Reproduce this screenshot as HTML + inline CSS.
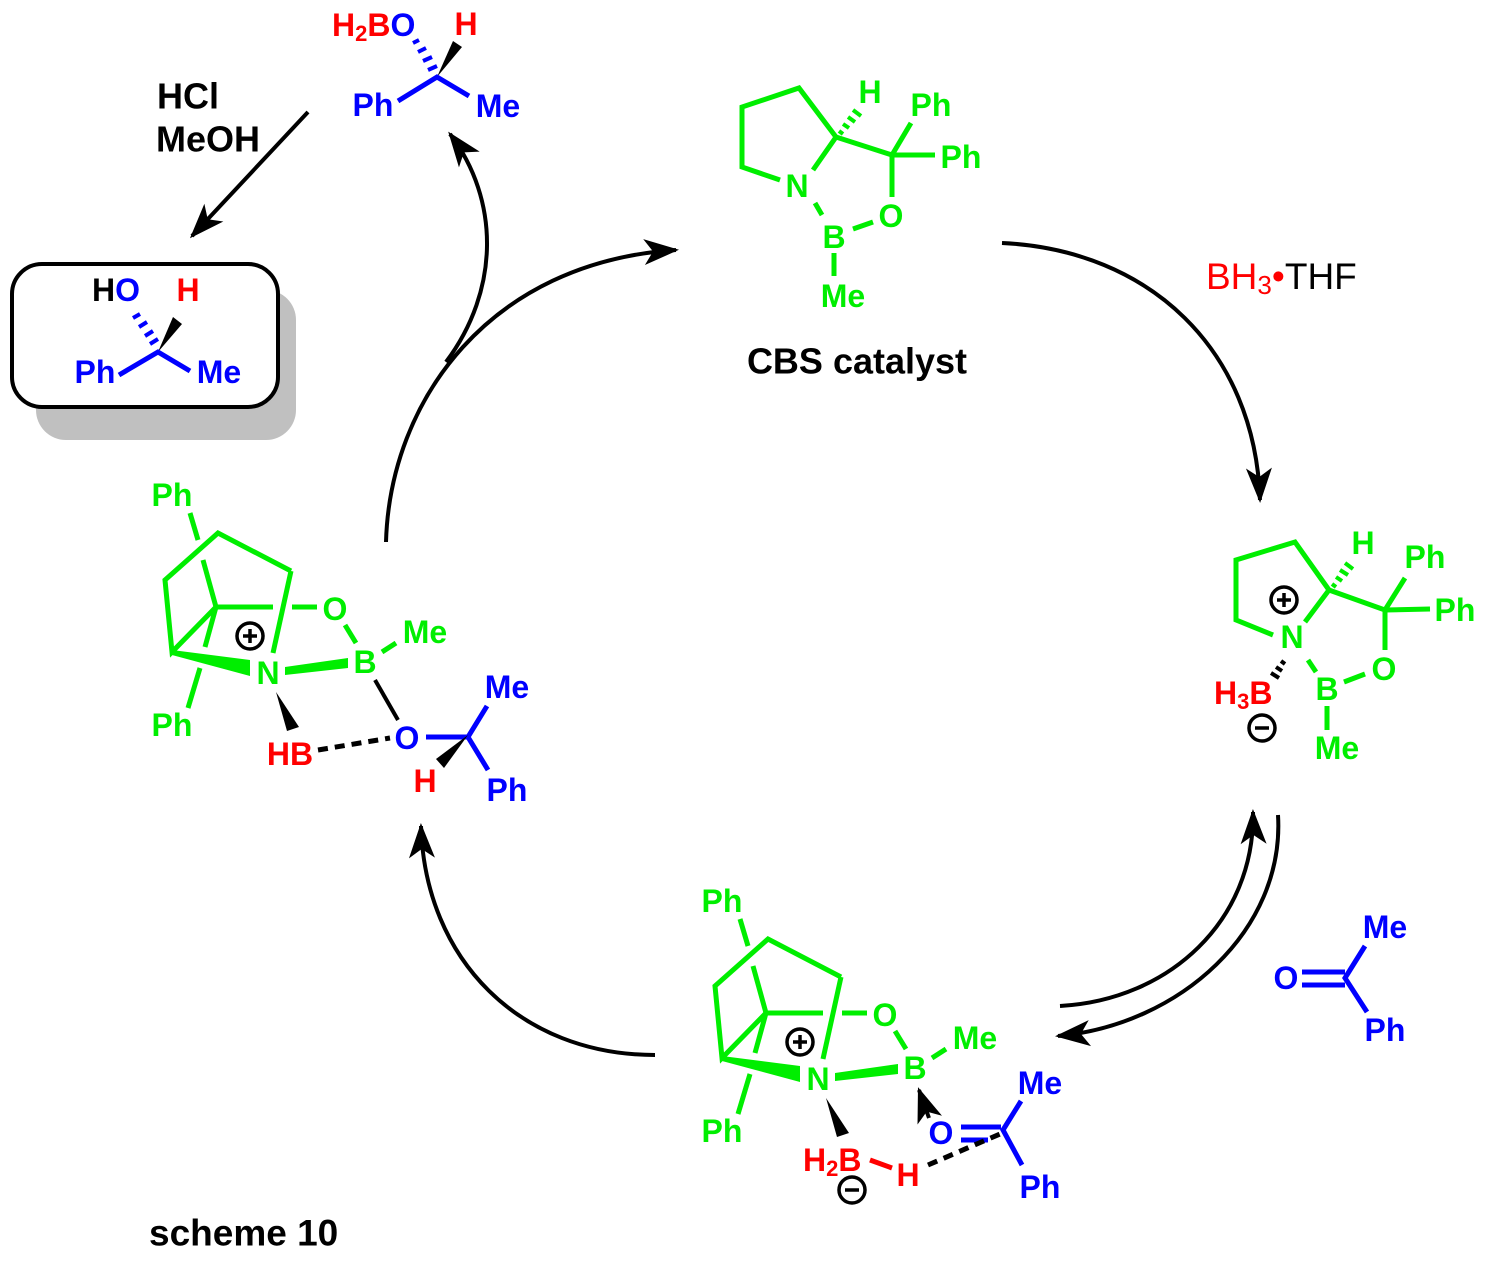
<!DOCTYPE html>
<html><head><meta charset="utf-8"><style>
html,body{margin:0;padding:0;background:#fff;}
svg{display:block;}
text{font-family:"Liberation Sans",Arial,sans-serif;font-weight:bold;font-size:32px;text-anchor:middle;dominant-baseline:central;}
.g{fill:#00ee00;} .b{fill:#0000ff;} .r{fill:#ff0000;} .k{fill:#000;}
.lg{stroke:#00ee00;stroke-width:5;fill:none;}
.lb{stroke:#0000ff;stroke-width:5;fill:none;}
.lr{stroke:#ff0000;stroke-width:5;fill:none;}
.lk{stroke:#000;stroke-width:4;fill:none;}
.arc{stroke:#000;stroke-width:4;fill:none;}
</style></head><body>
<svg width="1486" height="1265" viewBox="0 0 1486 1265" xmlns="http://www.w3.org/2000/svg">
<defs>
<marker id="ah" markerUnits="userSpaceOnUse" markerWidth="50" markerHeight="40" viewBox="-40 -20 50 40" refX="0" refY="0" orient="auto">
<path d="M3,0 L-32,-13 L-23,0 L-32,13 Z" fill="#000"/>
</marker>
<g id="core">
<line class="lg" x1="190" y1="513" x2="198" y2="540"/>
<polyline class="lg" points="291,571 218,533 165,580 172,652 216,607"/>
<line class="lg" x1="203" y1="560" x2="216" y2="607"/>
<line class="lg" x1="216" y1="607" x2="205" y2="647"/>
<line class="lg" x1="216" y1="607" x2="273" y2="607"/>
<line class="lg" x1="292" y1="607" x2="317" y2="607"/>
<line class="lg" x1="291" y1="571" x2="273" y2="653"/>
<line class="lg" x1="200" y1="668" x2="188" y2="708"/>
<polygon fill="#00ee00" points="172,650 250,660 250,676 172,655"/>
<polygon fill="#00ee00" points="285,667 348,658 348,668 285,675"/>
<line class="lg" x1="345" y1="625" x2="356" y2="643"/>
<line class="lg" x1="382" y1="652" x2="396" y2="643"/>
<polygon fill="#000" points="276,692 287,731 299,727"/>
<text class="g" x="335" y="609">O</text>
<text class="g" x="365" y="662">B</text>
<text class="g" x="425" y="632">Me</text>
<text class="g" x="268" y="673">N</text>
<text class="g" x="172" y="495">Ph</text>
<text class="g" x="172" y="725">Ph</text>
<circle cx="250" cy="636" r="13" fill="none" stroke="#000" stroke-width="3.5"/>
<line x1="243" y1="636" x2="257" y2="636" stroke="#000" stroke-width="3.5"/>
<line x1="250" y1="629" x2="250" y2="643" stroke="#000" stroke-width="3.5"/>
</g>
</defs>

<!-- top product -->
<text x="332" y="25" style="text-anchor:start"><tspan class="r">H</tspan><tspan class="r" font-size="22" dy="8">2</tspan><tspan class="r" dy="-8">B</tspan><tspan class="b">O</tspan></text>
<text class="r" x="466" y="24">H</text>
<g stroke="#0000ff" stroke-width="4">
<line x1="413" y1="43" x2="419" y2="40"/><line x1="418" y1="52" x2="426" y2="48"/><line x1="423" y1="61" x2="432" y2="57"/><line x1="428" y1="70" x2="437" y2="66"/>
</g>
<polygon fill="#000" points="437,77 453,41 462,47"/>
<polyline class="lb" points="398,101 437,77 469,96"/>
<text class="b" x="373" y="105">Ph</text>
<text class="b" x="498" y="106">Me</text>

<!-- HCl arrow -->
<text class="k" x="157" y="96" style="font-size:36px;text-anchor:start">HCl</text>
<text class="k" x="156" y="139" style="font-size:36px;text-anchor:start">MeOH</text>
<line class="lk" x1="308" y1="112" x2="192" y2="236" marker-end="url(#ah)"/>

<!-- box -->
<rect x="36" y="290" width="260" height="150" rx="30" fill="#c0c0c0"/>
<rect x="12" y="264" width="266" height="143" rx="30" fill="#fff" stroke="#000" stroke-width="4"/>
<text x="92" y="290" style="text-anchor:start"><tspan class="k">H</tspan><tspan class="b">O</tspan></text>
<text class="r" x="188" y="290">H</text>
<g stroke="#0000ff" stroke-width="4">
<line x1="133" y1="318" x2="140" y2="314"/><line x1="139" y1="327" x2="147" y2="322"/><line x1="145" y1="336" x2="153" y2="331"/><line x1="150" y1="344" x2="158" y2="339"/>
</g>
<polygon fill="#000" points="158,352 173,317 182,324"/>
<polyline class="lb" points="119,375 158,352 190,371"/>
<text class="b" x="95" y="372">Ph</text>
<text class="b" x="219" y="372">Me</text>

<!-- CBS catalyst -->
<polyline class="lg" points="780,180 742,167 742,107 799,88 836,137 813,170"/>
<polyline class="lg" points="836,137 892,155 892,197"/>
<line class="lg" x1="892" y1="155" x2="911" y2="123"/>
<line class="lg" x1="892" y1="155" x2="935" y2="155"/>
<line class="lg" x1="873" y1="222" x2="853" y2="229"/>
<line class="lg" x1="815" y1="203" x2="822" y2="215"/>
<line class="lg" x1="834" y1="253" x2="834" y2="276"/>
<g stroke="#00ee00" stroke-width="4">
<line x1="839" y1="131" x2="843" y2="134"/><line x1="843" y1="124" x2="849" y2="128"/><line x1="848" y1="117" x2="855" y2="122"/><line x1="853" y1="110" x2="861" y2="116"/>
</g>
<text class="g" x="870" y="92">H</text>
<text class="g" x="931" y="105">Ph</text>
<text class="g" x="961" y="157">Ph</text>
<text class="g" x="891" y="216">O</text>
<text class="g" x="834" y="237">B</text>
<text class="g" x="797" y="186">N</text>
<text class="g" x="843" y="296">Me</text>
<text class="k" x="857" y="361" style="font-size:36px">CBS catalyst</text>

<!-- BH3 THF -->
<text x="1206" y="276" style="text-anchor:start;font-weight:normal;font-size:37px"><tspan class="r">BH</tspan><tspan class="r" font-size="26" dy="9">3</tspan><tspan class="r" dy="-9">•</tspan><tspan class="k">THF</tspan></text>

<!-- right structure -->
<polyline class="lg" points="1273,635 1236,620 1236,560 1295,542 1329,590 1305,622"/>
<polyline class="lg" points="1329,590 1385,610 1385,650"/>
<line class="lg" x1="1385" y1="610" x2="1405" y2="578"/>
<line class="lg" x1="1385" y1="610" x2="1430" y2="609"/>
<line class="lg" x1="1365" y1="674" x2="1344" y2="682"/>
<line class="lg" x1="1308" y1="660" x2="1316" y2="672"/>
<line class="lg" x1="1327" y1="706" x2="1327" y2="730"/>
<g stroke="#00ee00" stroke-width="4">
<line x1="1332" y1="584" x2="1336" y2="587"/><line x1="1336" y1="577" x2="1342" y2="581"/><line x1="1340" y1="570" x2="1348" y2="575"/><line x1="1345" y1="563" x2="1353" y2="569"/>
</g>
<g stroke="#000" stroke-width="4">
<line x1="1281" y1="661" x2="1285" y2="664"/><line x1="1276" y1="667" x2="1282" y2="671"/><line x1="1271" y1="673" x2="1279" y2="678"/>
</g>
<text class="g" x="1363" y="543">H</text>
<text class="g" x="1425" y="557">Ph</text>
<text class="g" x="1455" y="610">Ph</text>
<text class="g" x="1384" y="669">O</text>
<text class="g" x="1327" y="689">B</text>
<text class="g" x="1292" y="637">N</text>
<text class="g" x="1337" y="748">Me</text>
<text x="1214" y="693" style="text-anchor:start"><tspan class="r">H</tspan><tspan class="r" font-size="22" dy="8">3</tspan><tspan class="r" dy="-8">B</tspan></text>
<circle cx="1284" cy="600" r="13" fill="none" stroke="#000" stroke-width="3.5"/>
<line x1="1277" y1="600" x2="1291" y2="600" stroke="#000" stroke-width="3.5"/>
<line x1="1284" y1="593" x2="1284" y2="607" stroke="#000" stroke-width="3.5"/>
<circle cx="1262" cy="728" r="13" fill="none" stroke="#000" stroke-width="3.5"/>
<line x1="1255" y1="728" x2="1269" y2="728" stroke="#000" stroke-width="3.5"/>

<!-- ketone -->
<text class="b" x="1286" y="978">O</text>
<line class="lb" x1="1302" y1="972" x2="1345" y2="972"/>
<line class="lb" x1="1302" y1="985" x2="1345" y2="985"/>
<polyline class="lb" points="1365,946 1345,978 1367,1012"/>
<text class="b" x="1385" y="927">Me</text>
<text class="b" x="1385" y="1030">Ph</text>

<!-- left structure -->
<use href="#core"/>
<line class="lk" x1="375" y1="680" x2="398" y2="720"/>
<text class="b" x="407" y="738">O</text>
<text class="r" x="290" y="754">HB</text>
<line x1="318" y1="750" x2="390" y2="738" stroke="#000" stroke-width="5" stroke-dasharray="10,7"/>
<line class="lb" x1="426" y1="737" x2="468" y2="737"/>
<polyline class="lb" points="487,706 468,737 488,770"/>
<polygon fill="#000" points="468,735 436,759 444,768"/>
<text class="r" x="425" y="781">H</text>
<text class="b" x="507" y="687">Me</text>
<text class="b" x="507" y="790">Ph</text>

<!-- bottom structure -->
<use href="#core" transform="translate(550,406)"/>
<line class="lk" x1="929" y1="1118" x2="919" y2="1090" stroke-width="4" marker-end="url(#ah)"/>
<text class="b" x="941" y="1133">O</text>
<line class="lb" x1="961" y1="1127" x2="1001" y2="1127"/>
<line class="lb" x1="961" y1="1140" x2="988" y2="1140"/>
<polyline class="lb" points="1021,1101 1003,1130 1022,1165"/>
<text class="b" x="1040" y="1083">Me</text>
<text class="b" x="1040" y="1187">Ph</text>
<line x1="928" y1="1165" x2="1000" y2="1134" stroke="#000" stroke-width="5" stroke-dasharray="10,7"/>
<text x="803" y="1160" style="text-anchor:start"><tspan class="r">H</tspan><tspan class="r" font-size="22" dy="8">2</tspan><tspan class="r" dy="-8">B</tspan></text>
<line class="lr" x1="870" y1="1160" x2="892" y2="1168"/>
<text class="r" x="908" y="1175">H</text>
<circle cx="852" cy="1190" r="13" fill="none" stroke="#000" stroke-width="3.5"/>
<line x1="845" y1="1190" x2="859" y2="1190" stroke="#000" stroke-width="3.5"/>

<!-- cycle arrows -->
<path class="arc" d="M386,542 C390,400 490,262 676,250" marker-end="url(#ah)"/>
<path class="arc" d="M446,362 C500,290 500,200 450,134" marker-end="url(#ah)"/>
<path class="arc" d="M1002,243 C1150,250 1255,350 1260,500" marker-end="url(#ah)"/>
<path class="arc" d="M1278,815 C1285,930 1180,1025 1058,1036" marker-end="url(#ah)"/>
<path class="arc" d="M1060,1006 C1170,1000 1255,920 1253,812" marker-end="url(#ah)"/>
<path class="arc" d="M655,1055 C520,1055 425,960 421,826" marker-end="url(#ah)"/>

<text class="k" x="149" y="1233" style="font-size:37px;text-anchor:start">scheme 10</text>
</svg>
</body></html>
